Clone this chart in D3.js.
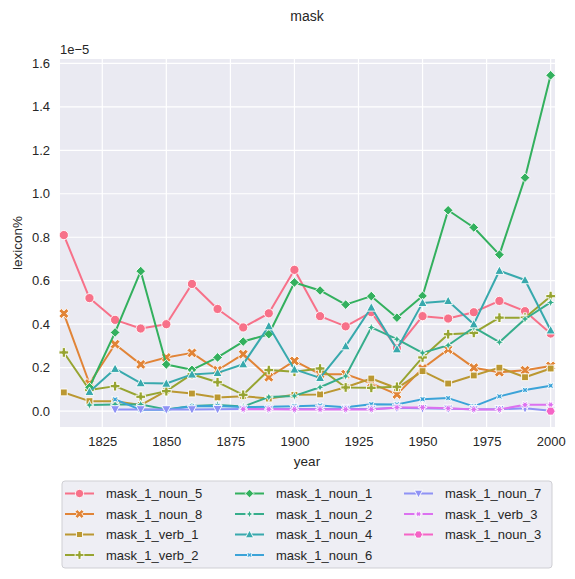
<!DOCTYPE html>
<html lang="en">
  <head>
    <meta charset="UTF-8" />
    <title>mask</title>
    <script src="https://cdn.jsdelivr.net/npm/d3@7"></script>
    <style>
      body { margin: 0; background: #fff; }
      text { font-family: "Liberation Sans", Arial, sans-serif; fill: #262626; }
    </style>
  </head>
  <body>
    <svg id="chart" width="575" height="579"></svg>
    <script>
      // values are in units of 1e-5 (as shown by the axis offset label)
      const years = [1810, 1820, 1830, 1840, 1850, 1860, 1870, 1880, 1890, 1900,
                     1910, 1920, 1930, 1940, 1950, 1960, 1970, 1980, 1990, 2000];

      const noun_5 = [0.81, 0.52, 0.42, 0.38, 0.40, 0.585, 0.47, 0.385, 0.45, 0.65,
                      0.437, 0.39, 0.455, 0.29, 0.437, 0.426, 0.455, 0.507, 0.46, 0.357];
      const noun_8 = [0.449, 0.127, 0.308, 0.215, 0.247, 0.268, 0.188, 0.262, 0.156, 0.231,
                      0.17, 0.17, 0.128, 0.077, 0.196, 0.284, 0.2, 0.179, 0.188, 0.208];
      const verb_1 = [0.086, 0.046, 0.046, 0.028, 0.093, 0.081, 0.063, 0.069, 0.058, 0.075,
                      0.077, 0.11, 0.15, 0.105, 0.184, 0.127, 0.164, 0.2, 0.156, 0.196];
      const verb_2 = [0.27, 0.097, 0.115, 0.066, 0.092, 0.17, 0.133, 0.075, 0.189, 0.181,
                      0.196, 0.109, 0.107, 0.112, 0.247, 0.354, 0.36, 0.43, 0.43, 0.529];
      const noun_1 = [null, 0.11, 0.362, 0.644, 0.215, 0.19, 0.247, 0.32, 0.354, 0.592,
                      0.555, 0.49, 0.529, 0.43, 0.53, 0.924, 0.845, 0.72, 1.074, 1.545];
      const noun_2 = [null, 0.028, 0.031, 0.031, 0.008, 0.024, 0.028, 0.021, 0.065, 0.07,
                      0.11, 0.161, 0.385, 0.331, 0.268, 0.303, 0.385, 0.317, 0.424, 0.5];
      const noun_4 = [null, 0.089, 0.195, 0.129, 0.127, 0.169, 0.176, 0.216, 0.391, 0.192,
                      0.153, 0.299, 0.477, 0.285, 0.498, 0.507, 0.4, 0.646, 0.603, 0.372];
      const noun_6 = [null, null, 0.054, 0.006, 0.006, 0.022, 0.024, 0.019, 0.02, 0.023,
                      0.026, 0.018, 0.032, 0.031, 0.055, 0.06, 0.022, 0.068, 0.097, 0.117];
      const noun_7 = [null, null, 0.008, 0.008, 0.008, 0.008, 0.009, 0.01, 0.01, 0.01,
                      0.01, 0.01, 0.01, 0.015, 0.013, 0.011, 0.009, 0.009, 0.013, 0.002];
      const verb_3 = [null, null, null, null, null, null, null, 0.009, 0.009, 0.008,
                      0.008, 0.008, 0.008, 0.017, 0.017, 0.013, 0.008, 0.008, 0.029, 0.029];
      const noun_3 = [null, null, null, null, null, null, null, null, null, null,
                      null, null, null, null, null, null, null, null, null, 0.0];

      const seriesNames = ["mask_1_noun_5", "mask_1_noun_8", "mask_1_verb_1", "mask_1_verb_2",
                           "mask_1_noun_1", "mask_1_noun_2", "mask_1_noun_4", "mask_1_noun_6",
                           "mask_1_noun_7", "mask_1_verb_3", "mask_1_noun_3"];
      const seriesValues = [noun_5, noun_8, verb_1, verb_2, noun_1, noun_2, noun_4, noun_6,
                            noun_7, verb_3, noun_3];
      const colors = ["#f77189", "#e18437", "#bb9832", "#97a431", "#33b05e", "#36ad8b",
                      "#38a9ad", "#3ba3d8", "#8f92f5", "#dc71f0", "#f564c6"];
      const markers = ["o", "X", "s", "P", "D", "star4", "^", "star4x", "v", "star6", "hex"];

      const xTicks = [1825, 1850, 1875, 1900, 1925, 1950, 1975, 2000];
      const yTicks = [0.0, 0.2, 0.4, 0.6, 0.8, 1.0, 1.2, 1.4, 1.6];

      const svg = d3.select("#chart");
      const pLeft = 60, pRight = 555, pTop = 59, pBottom = 427;

      let x = d3.scaleLinear().domain([1808.5, 2001.7]).range([pLeft, pRight]);
      let y = d3.scaleLinear().domain([-0.073, 1.62]).range([pBottom, pTop]);

      // background + grid
      svg.append("rect").attr("x", pLeft).attr("y", pTop)
        .attr("width", pRight - pLeft).attr("height", pBottom - pTop).attr("fill", "#eaeaf2");
      svg.append("g").selectAll("line").data(xTicks).enter().append("line")
        .attr("x1", (d) => x(d)).attr("x2", (d) => x(d))
        .attr("y1", pTop).attr("y2", pBottom)
        .attr("stroke", "#fff").attr("stroke-width", 1.2);
      svg.append("g").selectAll("line").data(yTicks).enter().append("line")
        .attr("x1", pLeft).attr("x2", pRight)
        .attr("y1", (d) => y(d)).attr("y2", (d) => y(d))
        .attr("stroke", "#fff").attr("stroke-width", 1.2);

      // axes (labels only, seaborn darkgrid has no spines/ticks)
      let xAxis = svg.append("g").attr("transform", `translate(0,${pBottom})`)
        .call(d3.axisBottom(x).tickValues(xTicks).tickFormat(d3.format("d")).tickSize(0).tickPadding(10));
      let yAxis = svg.append("g").attr("transform", `translate(${pLeft},0)`)
        .call(d3.axisLeft(y).tickValues(yTicks).tickFormat(d3.format(".1f")).tickSize(0).tickPadding(10));
      for (const a of [xAxis, yAxis]) {
        a.select(".domain").remove();
        a.selectAll("text").style("font-size", "13px")
          .style("font-family", '"Liberation Sans", Arial, sans-serif').attr("fill", "#262626");
      }

      svg.append("text").attr("x", pLeft).attr("y", 54).style("font-size", "13px").text("1e\u22125");
      svg.append("text").attr("x", 307).attr("y", 466).attr("text-anchor", "middle")
        .style("font-size", "13.5px").text("year");
      svg.append("text").attr("transform", "translate(22,243) rotate(-90)")
        .attr("text-anchor", "middle").style("font-size", "13.5px").text("lexicon%");
      svg.append("text").attr("x", 307).attr("y", 21).attr("text-anchor", "middle")
        .style("font-size", "14px").text("mask");

      // marker shapes roughly following matplotlib / seaborn's default marker list
      function markerPath(kind, r) {
        const pts = (arr) => "M" + arr.map((p) => p[0].toFixed(2) + "," + p[1].toFixed(2)).join("L") + "Z";
        const rot = (arr, deg) => {
          const a = (deg * Math.PI) / 180;
          return arr.map(([px, py]) => [px * Math.cos(a) - py * Math.sin(a), px * Math.sin(a) + py * Math.cos(a)]);
        };
        const regular = (n, rad, deg) => d3.range(n).map((i) => {
          const t = (2 * Math.PI * i) / n + (deg * Math.PI) / 180;
          return [rad * Math.sin(t), -rad * Math.cos(t)];
        });
        const star = (n, rad, inner, deg) => d3.range(2 * n).map((i) => {
          const t = (Math.PI * i) / n + (deg * Math.PI) / 180;
          const rr = i % 2 ? rad * inner : rad;
          return [rr * Math.sin(t), -rr * Math.cos(t)];
        });
        const plus = (s) => [[-1, -3], [-1, -1], [-3, -1], [-3, 1], [-1, 1], [-1, 3], [1, 3], [1, 1],
                             [3, 1], [3, -1], [1, -1], [1, -3]].map(([px, py]) => [(px * s) / 3, (py * s) / 3]);
        switch (kind) {
          case "o": return d3.symbol(d3.symbolCircle, Math.PI * r * r)();
          case "X": return pts(rot(plus(r * 1.15), 45));
          case "s": return pts(regular(4, r * 1.05, 45));
          case "P": return pts(plus(r * 1.05));
          case "D": return pts(regular(4, r * 1.05, 0));
          case "star4": return pts(star(4, r, 0.4, 0));
          case "^": return pts([[0, -r * 1.05], [-r, r * 0.8], [r, r * 0.8]]);
          case "star4x": return pts(star(4, r, 0.4, 45));
          case "v": return pts([[0, r * 1.05], [-r, -r * 0.8], [r, -r * 0.8]]);
          case "star6": return pts(star(6, r, 0.45, 30));
          case "hex": return pts(regular(6, r, 30));
        }
      }

      const R = 4.6;
      let line = d3.line()
        .defined((d) => d.v !== null)
        .x((d) => x(d.year))
        .y((d) => y(d.v));

      let plot = svg.append("g");
      seriesValues.forEach((vals, i) => {
        let pts = years.map((yr, j) => ({ year: yr, v: vals[j] }));
        let g = plot.append("g");
        g.append("path").attr("d", line(pts)).attr("fill", "none")
          .attr("stroke", colors[i]).attr("stroke-width", 2).attr("stroke-linejoin", "round");
        g.selectAll("path.m").data(pts.filter((d) => d.v !== null)).enter().append("path")
          .attr("class", "m")
          .attr("d", markerPath(markers[i], R))
          .attr("transform", (d) => `translate(${x(d.year)},${y(d.v)})`)
          .attr("fill", colors[i]).attr("stroke", "#fff").attr("stroke-width", 0.9);
      });

      // legend below the plot, 3 columns filled column-wise
      let legend = svg.append("g");
      legend.append("rect").attr("x", 62).attr("y", 481).attr("width", 490).attr("height", 87)
        .attr("rx", 3).attr("fill", "#eeeef4").attr("stroke", "#cfcfd4").attr("stroke-width", 1);
      const colX = [65, 235, 404], rowY = [493.5, 514, 534.5, 555];
      seriesNames.forEach((name, i) => {
        let cx = colX[Math.floor(i / 4)], cy = rowY[i % 4];
        let item = legend.append("g").attr("transform", `translate(${cx},${cy})`);
        item.append("line").attr("x1", 0).attr("x2", 29).attr("y1", 0).attr("y2", 0)
          .attr("stroke", colors[i]).attr("stroke-width", 2);
        item.append("path").attr("d", markerPath(markers[i], R * 0.9))
          .attr("transform", "translate(14.5,0)")
          .attr("fill", colors[i]).attr("stroke", "#fff").attr("stroke-width", 0.9);
        item.append("text").attr("x", 41).attr("y", 4.6).style("font-size", "13px").text(name);
      });
    </script>
  </body>
</html>
